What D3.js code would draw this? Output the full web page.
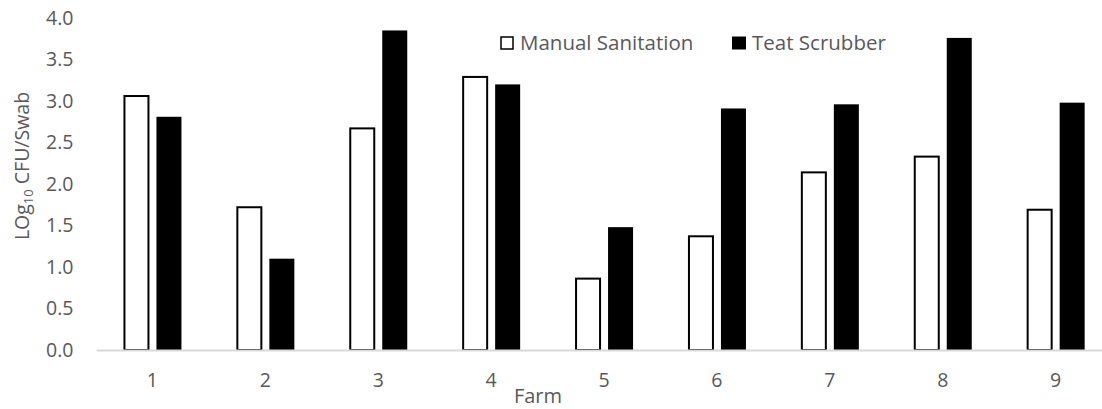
<!DOCTYPE html>
<html><head><meta charset="utf-8">
<script src="https://cdn.jsdelivr.net/npm/d3@7"></script>
<style>body{margin:0;background:#fff}svg{display:block}</style>
</head><body>
<svg id="c" width="1102" height="409"></svg>
<script>
const farms = ["1","2","3","4","5","6","7","8","9"];
const manual = [3.06, 1.72, 2.67, 3.29, 0.86, 1.37, 2.14, 2.33, 1.69];
const scrubber = [2.81, 1.10, 3.85, 3.20, 1.48, 2.91, 2.96, 3.76, 2.98];
const yTicks = [0, 0.5, 1, 1.5, 2, 2.5, 3, 3.5, 4];
const seriesNames = ["Manual Sanitation", "Teat Scrubber"];

const svg = d3.select("#c");
const font = "'Open Sans', 'Noto Sans', sans-serif";
const grey = "#595959";
const x = d3.scaleBand().domain(farms).range([96, 96 + 9 * 112.9]).padding(0);
const y = d3.scaleLinear().domain([0, 4]).range([350, 18]);

// y tick labels
const ya = svg.append("g").attr("transform", "translate(73.5,0)")
  .call(d3.axisLeft(y).tickValues(yTicks).tickFormat(d3.format(".1f")).tickSize(0).tickPadding(0));
ya.select(".domain").remove();
ya.selectAll("text").attr("font-family", font).attr("font-size", 19.5).attr("fill", grey);

// bars
const c = f => x(f) + x.bandwidth() / 2;
svg.append("g").selectAll("rect").data(farms).join("rect")
  .attr("x", f => c(f) - 28).attr("width", 24)
  .attr("y", (f, i) => y(manual[i])).attr("height", (f, i) => y(0) - y(manual[i]))
  .attr("fill", "#fff").attr("stroke", "#000").attr("stroke-width", 2);
svg.append("g").selectAll("rect").data(farms).join("rect")
  .attr("x", f => c(f) + 4).attr("width", 25)
  .attr("y", (f, i) => y(scrubber[i])).attr("height", (f, i) => y(0) - y(scrubber[i]))
  .attr("fill", "#000");

// x axis
const xa = svg.append("g").attr("transform", "translate(0,350)")
  .call(d3.axisBottom(x).tickSize(0).tickPadding(23));
xa.select(".domain").attr("stroke", "#d9d9d9").attr("stroke-width", 2);
xa.selectAll("text").attr("font-family", font).attr("font-size", 19.5).attr("fill", grey);

// axis titles
svg.append("text").attr("x", 538).attr("y", 403).attr("text-anchor", "middle")
  .attr("font-family", font).attr("font-size", 20).attr("fill", grey).text("Farm");
const yt = svg.append("text").attr("transform", "translate(29,166) rotate(-90)")
  .attr("text-anchor", "middle").attr("font-family", font).attr("font-size", 19.5).attr("fill", grey);
yt.append("tspan").text("LOg");
yt.append("tspan").attr("font-size", 13).attr("dy", 4).text("10");
yt.append("tspan").attr("dy", -4).text(" CFU/Swab");

// legend
const lg = svg.append("g");
lg.append("rect").attr("x", 501).attr("y", 37).attr("width", 12).attr("height", 12)
  .attr("fill", "#fff").attr("stroke", "#000").attr("stroke-width", 1.5);
lg.append("text").attr("x", 520).attr("y", 50).attr("font-family", font).attr("font-size", 20.5)
  .attr("fill", grey).text(seriesNames[0]);
lg.append("rect").attr("x", 732).attr("y", 36.5).attr("width", 14).attr("height", 13).attr("fill", "#000");
lg.append("text").attr("x", 752).attr("y", 50).attr("font-family", font).attr("font-size", 20.5)
  .attr("fill", grey).text(seriesNames[1]);
</script>
</body></html>
